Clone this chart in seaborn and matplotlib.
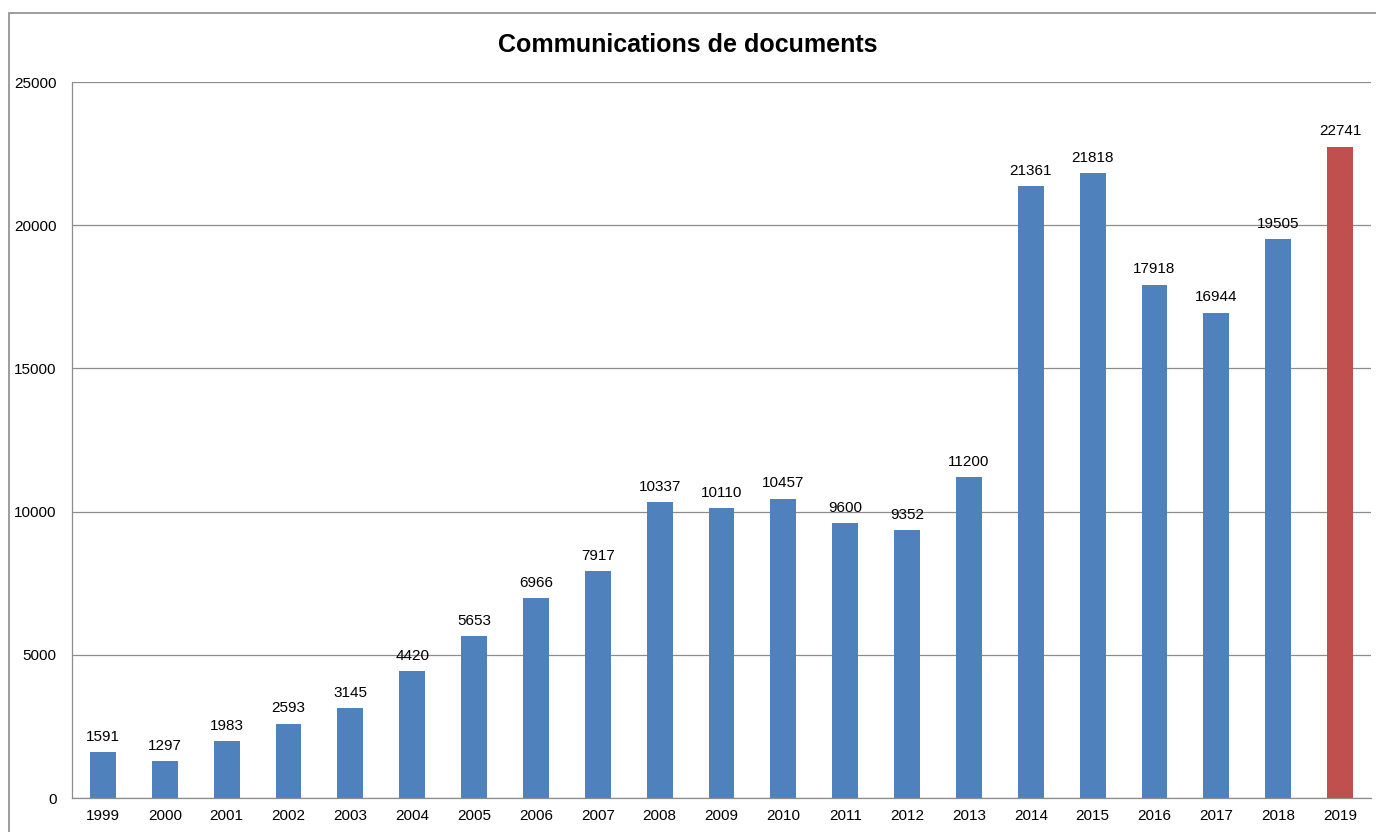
import matplotlib
matplotlib.use("Agg")
import matplotlib.pyplot as plt
from matplotlib.patches import Rectangle
import seaborn as sns
import pandas as pd

years = [str(y) for y in range(1999, 2020)]
values = [1591, 1297, 1983, 2593, 3145, 4420, 5653, 6966, 7917, 10337, 10110,
          10457, 9600, 9352, 11200, 21361, 21818, 17918, 16944, 19505, 22741]
highlight = ["past"] * 20 + ["current"]

sns.set_style("white")
plt.rcParams["font.family"] = ["Liberation Sans", "DejaVu Sans"]
plt.rcParams["text.color"] = "black"
plt.rcParams["xtick.color"] = "black"
plt.rcParams["ytick.color"] = "black"

df = pd.DataFrame({"year": years, "count": values, "kind": highlight})

fig = plt.figure(figsize=(13.76, 8.32), dpi=100)
ax = fig.add_axes([72 / 1376, 1 - 798 / 832, (1371 - 72) / 1376, (798 - 82) / 832])

sns.barplot(data=df, x="year", y="count", hue="kind",
            palette={"past": "#4F81BD", "current": "#C0504D"},
            saturation=1, linewidth=0,
            dodge=False, width=0.42, legend=False, ax=ax)

for c in ax.containers:
    ax.bar_label(c, fmt="%d", padding=6, fontsize=11, color="black")

ax.set_ylim(0, 25000)
ax.set_yticks(range(0, 25001, 5000))
ax.set_xlim(-0.5, len(years) - 0.5)
ax.yaxis.grid(True, color="#8c8c8c", linewidth=0.9)
ax.set_axisbelow(True)
ax.set_xlabel("")
ax.set_ylabel("")

for s in ["top", "right"]:
    ax.spines[s].set_visible(False)
for s in ["left", "bottom"]:
    ax.spines[s].set_color("#8c8c8c")
    ax.spines[s].set_linewidth(0.9)

# ticks between categories on x, outward on y
ax.set_xticks([i + 0.5 for i in range(-1, len(years))], minor=True)
ax.tick_params(axis="x", which="major", length=0, labelsize=11, pad=8)
ax.tick_params(axis="x", which="minor", length=5, color="#8c8c8c", direction="out")
ax.tick_params(axis="y", length=5, color="#8c8c8c", labelcolor="black",
               direction="out", labelsize=11, pad=6)

fig.text(0.5, 1 - 45 / 832, "Communications de documents", ha="center", va="center",
         fontsize=18, fontweight="bold", color="black")

fig.patches.append(Rectangle((8.5 / 1376, -0.1), 1.2, 1 - 12.5 / 832 + 0.1,
                             transform=fig.transFigure, fill=False,
                             edgecolor="#8c8c8c", linewidth=1.2))

fig.savefig("out.png", dpi=100)
